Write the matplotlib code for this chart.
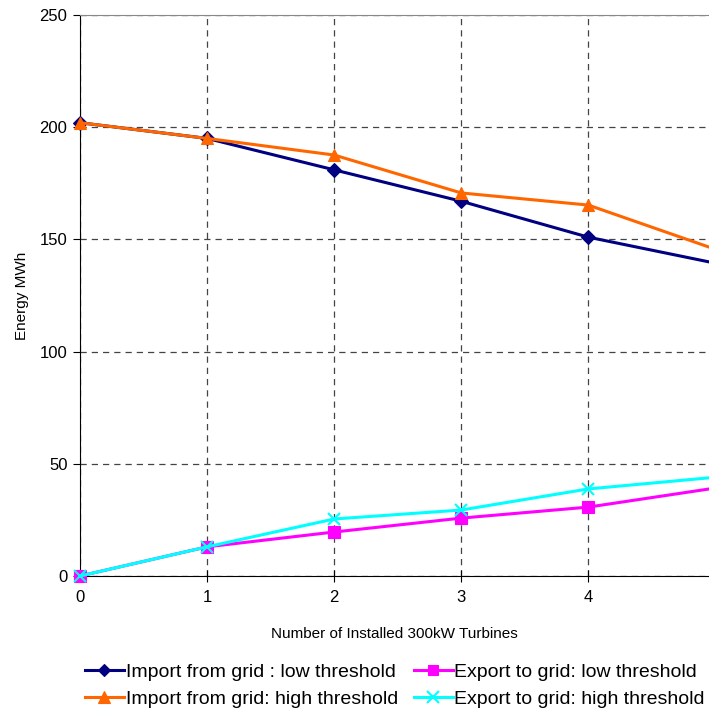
import matplotlib
matplotlib.use("Agg")
import matplotlib.pyplot as plt

plt.rcParams['font.family'] = ['Liberation Sans', 'DejaVu Sans']

turbines = [0, 1, 2, 3, 4, 5]
import_low = [202, 195, 181, 167, 151, 139.4]
import_high = [202, 195, 187.6, 170.7, 165.3, 145.6]
export_low = [0, 13, 19.6, 25.8, 30.7, 39.2]
export_high = [0, 13, 25.4, 29.4, 38.8, 44.0]

series = [
    ("Import from grid : low threshold", import_low, "#000080", "D", 7),
    ("Import from grid: high threshold", import_high, "#FF6600", "^", 9),
    ("Export to grid: low threshold", export_low, "#FF00FF", "s", 8),
    ("Export to grid: high threshold", export_high, "#00FFFF", "x", 9),
]

fig = plt.figure(figsize=(7.09, 7.13), dpi=100)
ax = fig.add_axes([80 / 709, 1 - 576 / 713, 1 - 80 / 709, (576 - 15) / 713])

handles = []
for label, vals, color, marker, ms in series:
    h, = ax.plot(turbines, vals, color=color, lw=2.2, marker=marker, ms=ms,
                 markerfacecolor=color, markeredgecolor=color,
                 markeredgewidth=1.5 if marker == "x" else 0.8,
                 markevery=[0, 1, 2, 3, 4], clip_on=False, zorder=3,
                 label=label)
    handles.append(h)

ax.set_xlim(0, 4.95)
ax.set_ylim(0, 250)
ax.set_xticks([0, 1, 2, 3, 4])
ax.set_yticks([0, 50, 100, 150, 200, 250])

ax.grid(True, color="#444444", linestyle=(0, (5, 4)), linewidth=0.9)
ax.set_axisbelow(True)

ax.spines['right'].set_visible(False)
ax.spines['top'].set_color("#888888")
ax.spines['left'].set_color("black")
ax.spines['bottom'].set_color("black")

ax.tick_params(axis='y', direction='out', length=5, labelsize=12, pad=4)
ax.tick_params(axis='x', direction='inout', length=8, labelsize=12, pad=6)

ax.set_xlabel("Number of Installed 300kW Turbines", fontsize=11, labelpad=16)
ax.set_ylabel("Energy MWh", fontsize=11, labelpad=8)

fig.legend(handles=handles, loc="upper left", ncol=2,
           bbox_to_anchor=(85 / 709, 1 - 663 / 713), frameon=False,
           fontsize=14, borderpad=0, borderaxespad=0,
           handlelength=2.0, handletextpad=0.1, columnspacing=0.8,
           labelspacing=0.5, markerscale=0.9)

fig.savefig("out.png", dpi=100)
